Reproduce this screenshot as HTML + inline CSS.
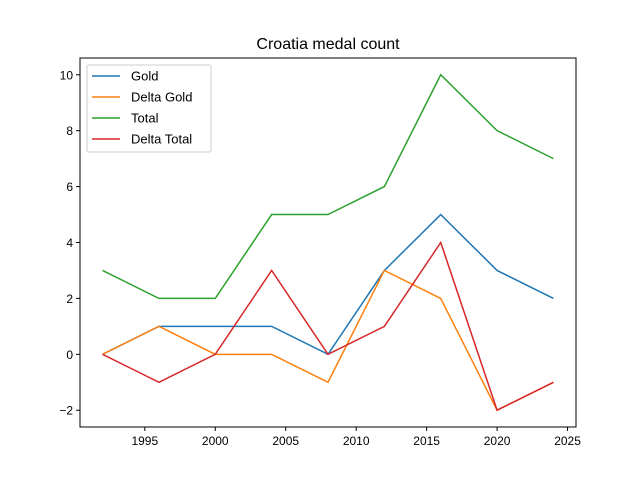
<!DOCTYPE html>
<html><head><meta charset="utf-8"><style>body{margin:0;background:#fff}svg{display:block;font-family:"Liberation Sans","DejaVu Sans",sans-serif}</style></head>
<body>
<svg id="chart" width="640" height="480">
<rect x="0" y="0" width="640" height="480" fill="#fff"/>
<text x="328" y="49" font-size="16" text-anchor="middle">Croatia medal count</text>
<g id="plot"></g>
<rect x="80" y="58" width="496" height="369" fill="none" stroke="#000" stroke-width="1"/>
<g id="legend"></g>
</svg>
<script>
const years = [1992,1996,2000,2004,2008,2012,2016,2020,2024];
const gold = [0,1,1,1,0,3,5,3,2];
const deltaGold = [0,1,0,0,-1,3,2,-2,-1];
const total = [3,2,2,5,5,6,10,8,7];
const deltaTotal = [0,-1,0,3,0,1,4,-2,-1];
const xTicks = [1995,2000,2005,2010,2015,2020,2025];
const yTicks = [-2,0,2,4,6,8,10];
const seriesNames = ["Gold","Delta Gold","Total","Delta Total"];
const colors = ["#1f77b4","#ff7f0e","#2ca02c","#d62728"];
const series = [gold, deltaGold, total, deltaTotal];
const L=80,R=576,T=58,B=427;
const x0=1990.4,x1=2025.6,y0=-2.6,y1=10.6;
const xs=v=>L+(v-x0)/(x1-x0)*(R-L);
const ys=v=>B-(v-y0)/(y1-y0)*(B-T);
const NS="http://www.w3.org/2000/svg";
const plot=document.getElementById('plot');
function mk(t,a,p){const e=document.createElementNS(NS,t);for(const k in a)e.setAttribute(k,a[k]);(p||plot).appendChild(e);return e;}
xTicks.forEach(t=>{
 const g=mk('g',{});
 
 
 mk('line',{x1:xs(t),x2:xs(t),y1:B,y2:B+4,stroke:'#000'},g);
 const tx=mk('text',{x:xs(t),y:B+18,'font-size':12,'text-anchor':'middle'},g);tx.textContent=t;
});
yTicks.forEach(t=>{
 const g=mk('g',{});
 
 
 mk('line',{x1:L-4,x2:L,y1:ys(t),y2:ys(t),stroke:'#000'},g);
 const tx=mk('text',{x:L-7,y:ys(t)+4.5,'font-size':12,'text-anchor':'end'},g);tx.textContent=(t<0?'\u2212'+(-t):t);
});
series.forEach((s,i)=>{
 const p=mk('polyline',{points:s.map((v,j)=>xs(years[j])+','+ys(v)).join(' '),fill:'none',stroke:colors[i],'stroke-width':1.5});
 
 
});
const lg=document.getElementById('legend');
mk('rect',{x:87,y:65,width:124,height:87,rx:2,fill:'#fff','fill-opacity':0.8,stroke:'#ccc'},lg);
seriesNames.forEach((n,i)=>{
 const y=76+i*21;
 const g=mk('g',{},lg);
 
 
 mk('line',{x1:92,x2:120,y1:y,y2:y,stroke:colors[i],'stroke-width':1.5},g);
 const t=mk('text',{x:131,y:y+4.5,'font-size':13},g);t.textContent=n;
});
</script>
</body></html>
